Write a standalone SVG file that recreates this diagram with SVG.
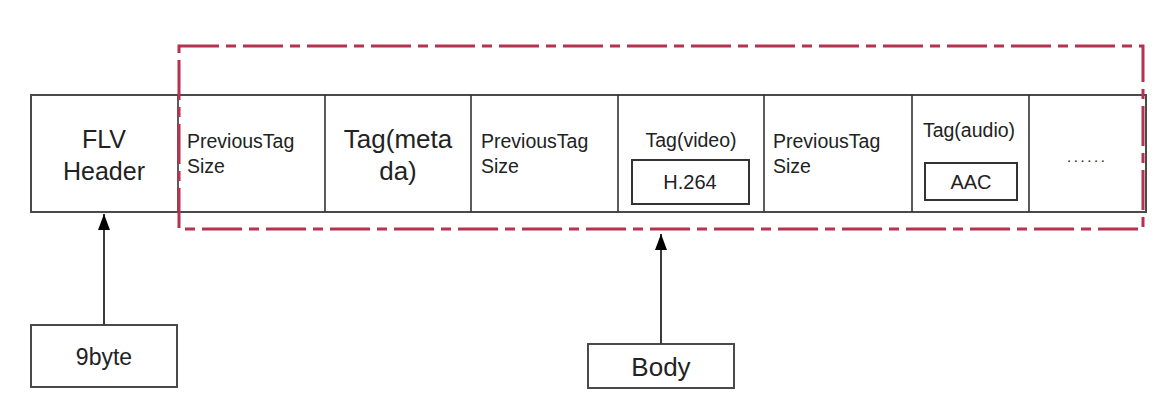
<svg xmlns="http://www.w3.org/2000/svg" width="1173" height="417" viewBox="0 0 1173 417">
<style>
.box{fill:#fff;stroke:#4a4a4a;stroke-width:2}
.div{stroke:#333;stroke-width:1.6}
.inner{fill:#fff;stroke:#333;stroke-width:2}
.t{font-family:"Liberation Sans",Helvetica,Arial,sans-serif;fill:#222}
.c{text-anchor:middle}
.region{fill:none;stroke:#b5334f;stroke-width:3;stroke-dasharray:40 7 10 7}
.conn{stroke:#3a3a3a;stroke-width:2;fill:none}
</style>
<defs>
<marker id="arr" markerWidth="16" markerHeight="12" refX="16" refY="6" orient="auto" markerUnits="userSpaceOnUse" viewBox="0 0 16 12">
<path d="M0,0 L16,6 L0,12 Z" fill="#000"/>
</marker>
</defs>
<rect width="1173" height="417" fill="#fff"/>
<g id="strip">
<rect class="box" x="31" y="95" width="1115" height="117"/>
</g>
<g id="flv-header">
<line class="div" x1="178" y1="95" x2="178" y2="212"/>
<text class="t c" x="104" y="148" font-size="25">FLV</text>
<text class="t c" x="104" y="180" font-size="25">Header</text>
</g>
<g id="prev-tag-size-1">
<text class="t" x="187" y="148" font-size="19.5">PreviousTag</text>
<text class="t" x="187" y="173" font-size="19.5">Size</text>
<line class="div" x1="325" y1="95" x2="325" y2="212"/>
</g>
<g id="tag-metadata">
<text class="t c" x="398" y="148" font-size="26">Tag(meta</text>
<text class="t c" x="398" y="180" font-size="26">da)</text>
<line class="div" x1="471" y1="95" x2="471" y2="212"/>
</g>
<g id="prev-tag-size-2">
<text class="t" x="481" y="148" font-size="19.5">PreviousTag</text>
<text class="t" x="481" y="173" font-size="19.5">Size</text>
<line class="div" x1="618" y1="95" x2="618" y2="212"/>
</g>
<g id="tag-video">
<text class="t c" x="691" y="147" font-size="19.5">Tag(video)</text>
<rect class="inner" x="632" y="160" width="117" height="44"/>
<text class="t c" x="690" y="189" font-size="20">H.264</text>
<line class="div" x1="764" y1="95" x2="764" y2="212"/>
</g>
<g id="prev-tag-size-3">
<text class="t" x="773" y="148" font-size="19.5">PreviousTag</text>
<text class="t" x="773" y="173" font-size="19.5">Size</text>
<line class="div" x1="912" y1="95" x2="912" y2="212"/>
</g>
<g id="tag-audio">
<text class="t c" x="969" y="137" font-size="19.5">Tag(audio)</text>
<rect class="inner" x="925" y="163" width="92" height="37"/>
<text class="t c" x="971" y="189" font-size="20">AAC</text>
<line class="div" x1="1029" y1="95" x2="1029" y2="212"/>
</g>
<g id="more">
<text class="t" x="1067" y="162" font-size="15" letter-spacing="2.6" fill="#444">......</text>
</g>
<g id="body-region">
<rect class="region" x="179" y="46" width="964" height="183"/>
</g>
<g id="node-9byte">
<rect class="box" x="31" y="325" width="146" height="62"/>
<text class="t c" x="104" y="365" font-size="23">9byte</text>
</g>
<g id="node-body">
<rect class="box" x="588" y="344" width="146" height="44"/>
<text class="t c" x="661" y="376" font-size="26">Body</text>
</g>
<g id="connectors">
<line class="conn" x1="104" y1="325" x2="104" y2="214" marker-end="url(#arr)"/>
<line class="conn" x1="661" y1="344" x2="661" y2="234" marker-end="url(#arr)"/>
</g>
</svg>
